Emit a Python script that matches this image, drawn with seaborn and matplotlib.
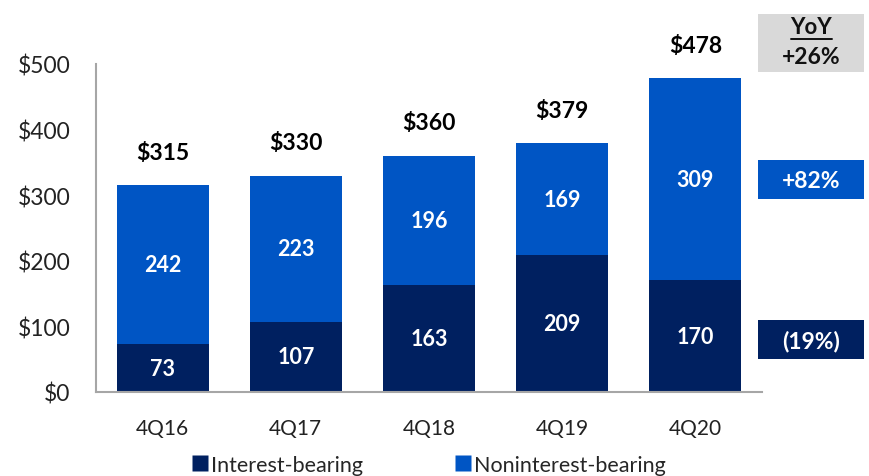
import matplotlib
matplotlib.use("Agg")
import matplotlib.pyplot as plt
from matplotlib.patches import Rectangle
from matplotlib.lines import Line2D
import seaborn as sns
import pandas as pd

quarters = ["4Q16", "4Q17", "4Q18", "4Q19", "4Q20"]
interest_bearing = [73, 107, 163, 209, 170]
noninterest_bearing = [242, 223, 196, 169, 309]
totals = [315, 330, 360, 379, 478]
yoy_total = "+26%"
yoy_noninterest = "+82%"
yoy_interest = "(19%)"
y_ticks = [0, 100, 200, 300, 400, 500]
y_tick_labels = ["$0", "$100", "$200", "$300", "$400", "$500"]

NAVY = "#002060"
BLUE = "#0055C4"
GREY_BOX = "#D9D9D9"
SPINE = "#A6A6A6"

sns.set_style("white")
plt.rcParams["font.family"] = ["Lato", "DejaVu Sans"]

df = pd.DataFrame({"quarter": quarters, "ib": interest_bearing,
                   "nib": noninterest_bearing, "total": totals})

fig = plt.figure(figsize=(8.69, 4.77), dpi=100)
ax = fig.add_axes([96 / 869, 84 / 477, 666 / 869, 328 / 477])

sns.barplot(data=df, x="quarter", y="total", color=BLUE, width=0.69,
            saturation=1, ax=ax, edgecolor="none")
sns.barplot(data=df, x="quarter", y="ib", color=NAVY, width=0.69,
            saturation=1, ax=ax, edgecolor="none")

ax.set_xlim(-0.5, 4.5)
ax.set_ylim(0, 500)
ax.set_yticks(y_ticks)
ax.set_yticklabels(y_tick_labels)
ax.set_xlabel("")
ax.set_ylabel("")
ax.tick_params(axis="y", labelsize=16.5, pad=18.5, length=0, colors="#222222")
ax.tick_params(axis="x", labelsize=15, pad=19, length=0, colors="#222222")
for s in ["top", "right"]:
    ax.spines[s].set_visible(False)
for s in ["left", "bottom"]:
    ax.spines[s].set_color(SPINE)
    ax.spines[s].set_linewidth(1.5)

for i, (ib, nib, tot) in enumerate(zip(interest_bearing, noninterest_bearing, totals)):
    ax.text(i, ib / 2, f"{ib}", ha="center", va="center", color="white",
            fontsize=15.5, fontweight="bold")
    ax.text(i, ib + nib / 2, f"{nib}", ha="center", va="center", color="white",
            fontsize=15.5, fontweight="bold")
    ax.annotate(f"${tot}", (i, tot), xytext=(0, 24), textcoords="offset points",
                ha="center", va="center", fontsize=16.5, fontweight="bold",
                color="black")

# Right-hand YoY boxes (figure pixel coordinates)
W, H = 869, 477
def box(x0, y0, x1, y1, color):
    fig.patches.append(Rectangle((x0 / W, 1 - y1 / H), (x1 - x0) / W, (y1 - y0) / H,
                                 transform=fig.transFigure, facecolor=color,
                                 edgecolor="none", zorder=0))

box(758, 15, 864, 73, GREY_BOX)
fig.text(811 / W, 1 - 28 / H, "YoY", ha="center", va="center", fontsize=16,
         fontweight="bold", color="#111111")
fig.add_artist(Line2D([791 / W, 832 / W], [1 - 40 / H, 1 - 40 / H],
                      color="#111111", linewidth=1.4, transform=fig.transFigure))
fig.text(811 / W, 1 - 58 / H, yoy_total, ha="center", va="center", fontsize=16.5,
         fontweight="bold", color="#111111")

box(758, 161, 864, 200, BLUE)
fig.text(811 / W, 1 - 181 / H, yoy_noninterest, ha="center", va="center",
         fontsize=16.5, fontweight="bold", color="white")

box(758, 321, 864, 360, NAVY)
fig.text(811 / W, 1 - 341 / H, yoy_interest, ha="center", va="center",
         fontsize=16.5, fontweight="bold", color="white")

handles = [Line2D([], [], marker="s", linestyle="none", markersize=11,
                  markerfacecolor=NAVY, markeredgecolor="none"),
           Line2D([], [], marker="s", linestyle="none", markersize=11,
                  markerfacecolor=BLUE, markeredgecolor="none")]
fig.legend(handles, ["Interest-bearing", "Noninterest-bearing"], ncol=2,
           loc="center", bbox_to_anchor=(428 / W, 1 - 466 / H), frameon=False,
           fontsize=15.5, handletextpad=0.05, columnspacing=4.2, handlelength=0.9)

fig.savefig("out.png", dpi=100)
